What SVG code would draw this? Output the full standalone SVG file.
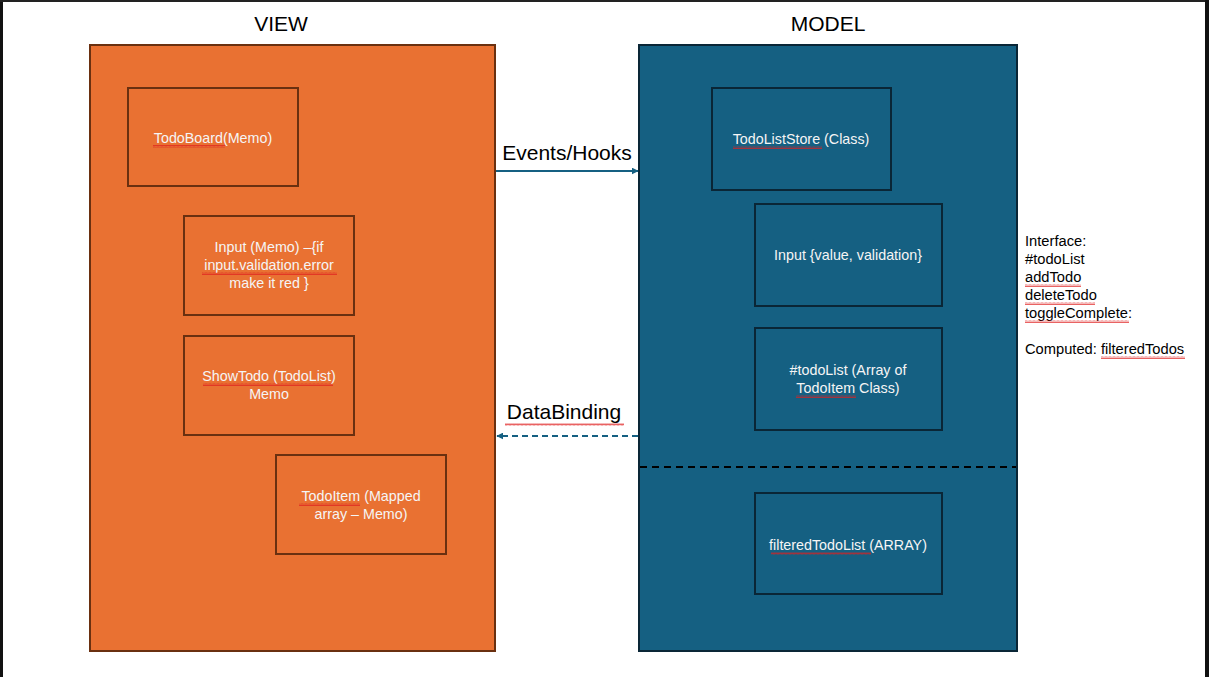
<svg xmlns="http://www.w3.org/2000/svg" width="1209" height="677" viewBox="0 0 1209 677">
<defs>
<style>
.title{font-family:"Liberation Sans",Arial,sans-serif;font-size:21px;fill:#000;text-anchor:middle}
.lbl{font-family:"Liberation Sans",Arial,sans-serif;font-size:14.3px;fill:#f5f5f5;text-anchor:middle}
.side{font-family:"Liberation Sans",Arial,sans-serif;font-size:14.7px;fill:#000}
.vbox{fill:#E97132;stroke:#6a3010;stroke-width:2}
.mbox{fill:#156082;stroke:#0a2636;stroke-width:2}
.sq{fill:url(#wavy)}
</style>
<pattern id="wavy" width="4" height="3" patternUnits="userSpaceOnUse">
<path d="M0,2.5 L1,0.5 L2,2.5 L3,0.5 L4,2.5" fill="none" stroke="#e02020" stroke-width="0.7"/>
</pattern>
<marker id="arr" viewBox="0 0 10 10" refX="9" refY="5" markerWidth="7" markerHeight="7" orient="auto-start-reverse" markerUnits="userSpaceOnUse">
<path d="M0,0 L10,5 L0,10 z" fill="#156082"/>
</marker>
</defs>
<rect x="0" y="0" width="1209" height="677" fill="#fff"/>
<rect x="0" y="0" width="3" height="677" fill="#111"/>
<rect x="0" y="0" width="1209" height="2" fill="#222"/>
<rect x="1205" y="0" width="4" height="677" fill="#111"/>

<g id="view">
<rect class="vbox" x="90" y="45" width="405" height="606"/>
<text class="title" x="281" y="31">VIEW</text>
</g>
<g id="model">
<rect class="mbox" x="639" y="45" width="378" height="606"/>
<text class="title" x="828" y="31">MODEL</text>
<line x1="640" y1="467" x2="1016" y2="467" stroke="#000" stroke-width="2" stroke-dasharray="7,5"/>
</g>

<g id="todoboard">
<rect class="vbox" x="128" y="88" width="170" height="98"/>
<text class="lbl" x="213" y="143">TodoBoard(Memo)</text>
<rect class="sq" x="153" y="145" width="72" height="3"/>
</g>
<g id="input-view">
<rect class="vbox" x="184" y="216" width="170" height="99"/>
<text class="lbl" x="269" y="252">Input (Memo) –{if</text>
<text class="lbl" x="269" y="270">input.validation.error</text>
<text class="lbl" x="269" y="288">make it red }</text>
<rect class="sq" x="202" y="272" width="135" height="3"/>
</g>
<g id="showtodo">
<rect class="vbox" x="184" y="336" width="170" height="99"/>
<text class="lbl" x="269" y="381">ShowTodo (TodoList)</text>
<text class="lbl" x="269" y="399">Memo</text>
<rect class="sq" x="203" y="383" width="130" height="3"/>
</g>
<g id="todoitem">
<rect class="vbox" x="276" y="455" width="170" height="99"/>
<text class="lbl" x="361" y="501">TodoItem (Mapped</text>
<text class="lbl" x="361" y="519">array – Memo)</text>
<rect class="sq" x="299" y="503" width="61" height="3"/>
</g>

<g id="todoliststore">
<rect class="mbox" x="712" y="88" width="179" height="102"/>
<text class="lbl" x="801" y="144">TodoListStore (Class)</text>
<rect class="sq" x="733" y="146" width="89" height="3"/>
</g>
<g id="input-model">
<rect class="mbox" x="755" y="204" width="187" height="102"/>
<text class="lbl" x="848" y="260">Input {value, validation}</text>
</g>
<g id="todolist">
<rect class="mbox" x="755" y="328" width="187" height="102"/>
<text class="lbl" x="848" y="375">#todoList (Array of</text>
<text class="lbl" x="848" y="393">TodoItem Class)</text>
<rect class="sq" x="796" y="395" width="60" height="3"/>
</g>
<g id="filteredtodolist">
<rect class="mbox" x="755" y="493" width="187" height="101"/>
<text class="lbl" x="848" y="550">filteredTodoList (ARRAY)</text>
<rect class="sq" x="771" y="552" width="100" height="3"/>
</g>

<g id="interface">
<text class="side" x="1025" y="246">Interface:</text>
<text class="side" x="1025" y="264">#todoList</text>
<text class="side" x="1025" y="282">addTodo</text>
<text class="side" x="1025" y="300">deleteTodo</text>
<text class="side" x="1025" y="318">toggleComplete:</text>
<text class="side" x="1025" y="354">Computed: filteredTodos</text>
<rect class="sq" x="1025" y="284" width="56" height="3"/>
<rect class="sq" x="1025" y="302" width="70" height="3"/>
<rect class="sq" x="1025" y="320" width="104" height="3"/>
<rect class="sq" x="1101" y="356" width="84" height="3"/>
</g>

<g id="connectors">
<line x1="496" y1="171" x2="638" y2="171" stroke="#156082" stroke-width="2" marker-end="url(#arr)"/>
<text class="title" x="567" y="160">Events/Hooks</text>
<line x1="638" y1="436" x2="497" y2="436" stroke="#156082" stroke-width="2" stroke-dasharray="6,4" marker-end="url(#arr)"/>
<text class="title" x="564" y="419">DataBinding</text>
<rect class="sq" x="505" y="423" width="119" height="3"/>
</g>
</svg>
